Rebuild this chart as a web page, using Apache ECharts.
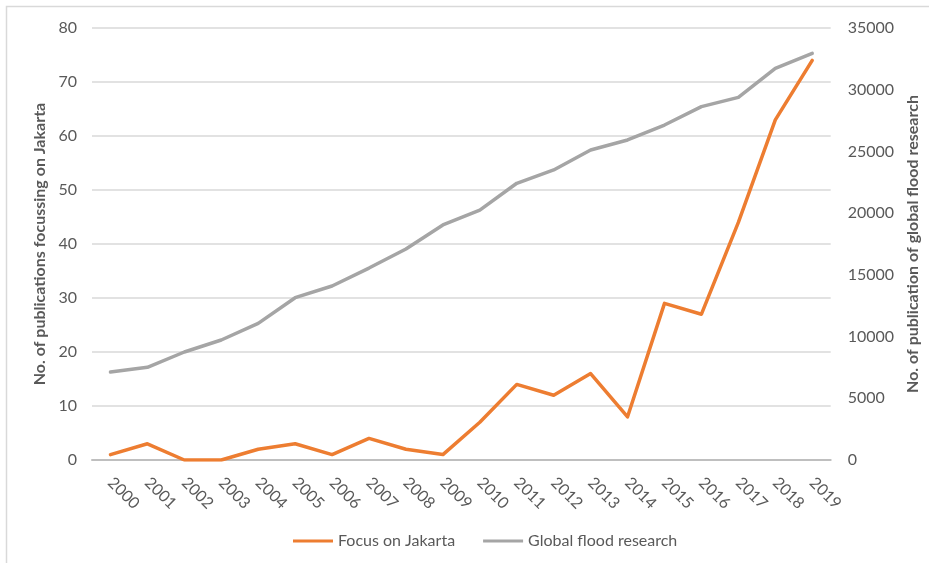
<!DOCTYPE html>
<html>
<head>
<meta charset="utf-8">
<script src="https://cdn.jsdelivr.net/npm/echarts@6/dist/echarts.min.js"></script>
<style>
  html, body { margin: 0; padding: 0; background: #fff; }
  #chart { width: 929px; height: 563px; }
</style>
</head>
<body>
<div id="chart"></div>
<script>
const years = ['2000', '2001', '2002', '2003', '2004', '2005', '2006', '2007', '2008', '2009',
  '2010', '2011', '2012', '2013', '2014', '2015', '2016', '2017', '2018', '2019']
const jakarta = [1, 3, 0, 0, 2, 3, 1, 4, 2, 1, 7, 14, 12, 16, 8, 29, 27, 44, 63, 74]
const globalFlood = [7130, 7510, 8750, 9720, 11070, 13150, 14100, 15550, 17100, 19040,
  20250, 22420, 23500, 25120, 25930, 27140, 28630, 29380, 31730, 32950]

const font = 'Lato, "Liberation Sans", sans-serif'
const textColor = '#595959'

const chart = echarts.init(document.getElementById('chart'))

chart.setOption({
  animation: false,
  textStyle: { fontFamily: font },
  graphic: [{
    type: 'rect',
    shape: { x: 6.5, y: 6.5, width: 960, height: 600 },
    style: { fill: 'none', stroke: '#d9d9d9', lineWidth: 1.5 },
    silent: true
  }],
  grid: { left: 92, right: 96, top: 28, bottom: 103, containLabel: false },
  legend: {
    top: 528,
    left: 288,
    itemWidth: 40,
    itemHeight: 3,
    itemGap: 28,
    icon: 'rect',
    textStyle: { color: textColor, fontSize: 16, fontFamily: font },
    data: ['Focus on Jakarta', 'Global flood research']
  },
  xAxis: {
    type: 'category',
    data: years,
    boundaryGap: true,
    axisLine: { lineStyle: { color: '#bfbfbf', width: 2 } },
    axisTick: { show: false },
    axisLabel: { rotate: -45, color: textColor, fontSize: 16, margin: 20, fontFamily: font }
  },
  yAxis: [{
    type: 'value',
    min: 0,
    max: 80,
    interval: 10,
    name: 'No. of publications focussing on Jakarta',
    nameLocation: 'middle',
    nameGap: 38,
    nameTextStyle: { color: textColor, fontSize: 16, fontWeight: 'bold', fontFamily: font },
    axisLine: { show: false },
    axisTick: { show: false },
    axisLabel: { color: textColor, fontSize: 16, margin: 15, fontFamily: font },
    splitLine: { lineStyle: { color: '#d9d9d9', width: 1.5 } }
  }, {
    type: 'value',
    min: 0,
    max: 35000,
    interval: 5000,
    name: 'No. of publication of global flood research',
    nameLocation: 'middle',
    nameGap: 69,
    nameTextStyle: { color: textColor, fontSize: 16, fontWeight: 'bold', fontFamily: font },
    axisLine: { show: false },
    axisTick: { show: false },
    axisLabel: { color: textColor, fontSize: 16, margin: 17, fontFamily: font, formatter: v => String(v) },
    splitLine: { show: false }
  }],
  series: [{
    name: 'Focus on Jakarta',
    type: 'line',
    yAxisIndex: 0,
    data: jakarta,
    symbol: 'none',
    z: 3,
    itemStyle: { color: '#ed7d31' },
    lineStyle: { color: '#ed7d31', width: 3.5, cap: 'round', join: 'round' }
  }, {
    name: 'Global flood research',
    type: 'line',
    yAxisIndex: 1,
    data: globalFlood,
    symbol: 'none',
    z: 2,
    itemStyle: { color: '#a5a5a5' },
    lineStyle: { color: '#a5a5a5', width: 3.5, cap: 'round', join: 'round' }
  }]
})

window.addEventListener('resize', () => chart.resize())
</script>
</body>
</html>
